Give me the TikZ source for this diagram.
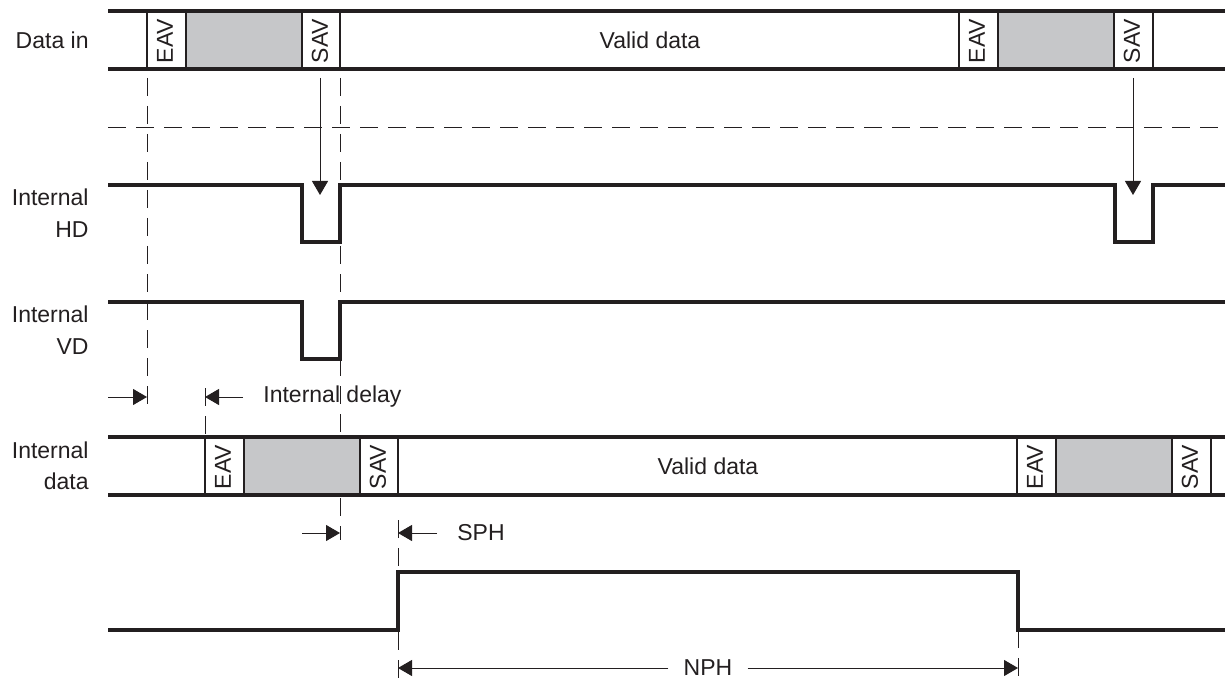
\documentclass[tikz,border=0pt]{standalone}
\usepackage{fontspec}
\setmainfont{Liberation Sans}
\usetikzlibrary{arrows.meta}
\definecolor{ink}{HTML}{231F20}
\definecolor{blankfill}{HTML}{C6C7C9}
\begin{document}
\begin{tikzpicture}[x=0.5pt,y=-0.5pt,
  every node/.style={font=\fontsize{11.5}{15.75}\selectfont, text=ink, inner sep=0pt},
  sig/.style={draw=ink, line width=1.6pt},
  cell/.style={draw=ink, line width=0.6pt, fill=white},
  blank/.style={draw=ink, line width=0.6pt, fill=blankfill},
  guide/.style={draw=ink, line width=0.5pt, dash pattern=on 9pt off 5pt},
  pointer/.style={draw=ink, line width=0.5pt, -{Triangle[length=7pt,width=8pt]}},
  lbl/.style={align=right, anchor=east},
  vlabel/.style={rotate=90, font=\fontsize{11.5}{12}\selectfont}
]
\useasboundingbox (0,0) rectangle (1225,679);

% guide coordinates
\coordinate (g1a) at (147,78);  \coordinate (g1b) at (147,410);
\coordinate (g2a) at (340,78);  \coordinate (g2b) at (340,540);
\coordinate (g3a) at (205,388); \coordinate (g3b) at (205,437);
\coordinate (g4a) at (398,520); \coordinate (g4b) at (398,679);
\coordinate (g5a) at (1018,630); \coordinate (g5b) at (1018,679);
\coordinate (h1a) at (108,128); \coordinate (h1b) at (1225,128);

\draw[guide] (g1a) -- (g1b);
\draw[guide] (g2a) -- (g2b);
\draw[guide] (g3a) -- (g3b);
\draw[guide] (g4a) -- (g4b);
\draw[guide] (g5a) -- (g5b);
\draw[guide] (h1a) -- (h1b);

% ---- Data in bar ----
\draw[cell] (147,11) rectangle (186,69);
\draw[blank] (186,11) rectangle (302,69);
\draw[cell] (302,11) rectangle (340,69);
\draw[cell] (959,11) rectangle (998,69);
\draw[blank] (998,11) rectangle (1114,69);
\draw[cell] (1114,11) rectangle (1153,69);
\draw[sig] (108,11) -- (1225,11);
\draw[sig] (108,69) -- (1225,69);
\node[vlabel] (eav1) at (165,41) {EAV};
\node[vlabel] (sav1) at (320,41) {SAV};
\node[vlabel] (eav2) at (977,41) {EAV};
\node[vlabel] (sav2) at (1132,41) {SAV};
\node (valid1) at (650,40) {Valid data};
\node[lbl] (datain) at (89,40) {Data in};

% ---- pointers to HD ----
\coordinate (p1a) at (320,78); \coordinate (p1b) at (320,195);
\coordinate (p2a) at (1133,78); \coordinate (p2b) at (1133,195);
\draw[pointer] (p1a) -- (p1b);
\draw[pointer] (p2a) -- (p2b);

% ---- Internal HD ----
\node[lbl] (hd) at (89,213) {Internal\\HD};
\draw[sig] (108,185) -- (302,185) -- (302,242) -- (340,242) -- (340,185)
  -- (1115,185) -- (1115,242) -- (1153,242) -- (1153,185) -- (1225,185);

% ---- Internal VD ----
\node[lbl] (vd) at (89,330) {Internal\\VD};
\draw[sig] (108,302) -- (302,302) -- (302,359) -- (340,359) -- (340,302) -- (1225,302);

% ---- Internal delay ----
\coordinate (d1a) at (108,397); \coordinate (d1b) at (147,397);
\coordinate (d2a) at (243,397); \coordinate (d2b) at (205,397);
\draw[pointer] (d1a) -- (d1b);
\draw[pointer] (d2a) -- (d2b);
\node[anchor=west] (delay) at (263,397) {Internal delay};

% ---- Internal data bar ----
\draw[cell] (205,437) rectangle (244,495);
\draw[blank] (244,437) rectangle (360,495);
\draw[cell] (360,437) rectangle (398,495);
\draw[cell] (1017,437) rectangle (1056,495);
\draw[blank] (1056,437) rectangle (1172,495);
\draw[cell] (1172,437) rectangle (1211,495);
\draw[sig] (108,437) -- (1225,437);
\draw[sig] (108,495) -- (1225,495);
\node[vlabel] (eav3) at (223,467) {EAV};
\node[vlabel] (sav3) at (378,467) {SAV};
\node[vlabel] (eav4) at (1035,467) {EAV};
\node[vlabel] (sav4) at (1190,467) {SAV};
\node (valid2) at (708,466) {Valid data};
\node[lbl] (idata) at (89,466) {Internal\\data};

% ---- SPH ----
\coordinate (s1a) at (302,533); \coordinate (s1b) at (340,533);
\coordinate (s2a) at (437,533); \coordinate (s2b) at (398,533);
\draw[pointer] (s1a) -- (s1b);
\draw[pointer] (s2a) -- (s2b);
\node[anchor=west] (sph) at (457,533) {SPH};

% ---- output signal ----
\draw[sig] (108,630) -- (398,630) -- (398,572) -- (1018,572) -- (1018,630) -- (1225,630);

% ---- NPH ----
\node (nph) at (708,668) {NPH};
\coordinate (n1) at (398,668); \coordinate (n2) at (1018,668);
\draw[pointer] ([xshift=-7.5pt]nph.west) -- (n1);
\draw[pointer] ([xshift=7.5pt]nph.east) -- (n2);
\end{tikzpicture}
\end{document}
